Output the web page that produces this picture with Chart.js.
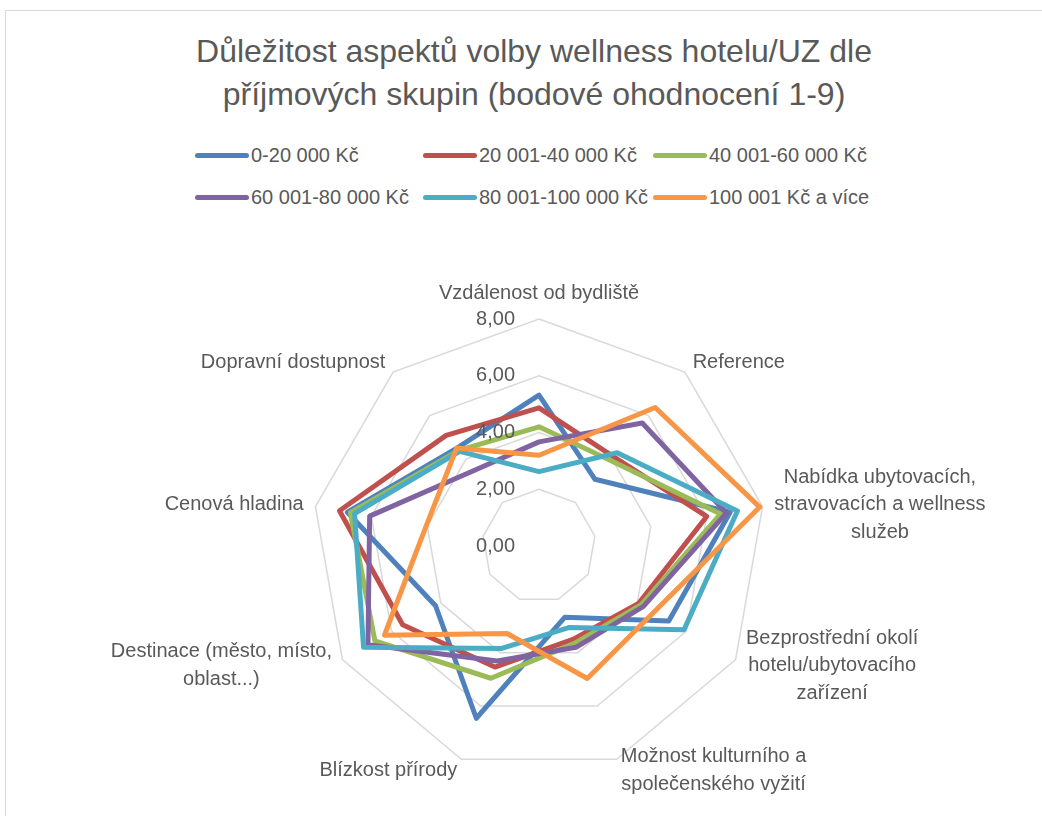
<!DOCTYPE html>
<html>
<head>
<meta charset="utf-8">
<script src="https://cdn.jsdelivr.net/npm/chart.js@4"></script>
<style>
  html, body { margin: 0; padding: 0; background: #ffffff; }
  body { width: 1042px; height: 816px; position: relative; overflow: hidden; font-family: "Liberation Sans", Arial, sans-serif; color: #595959; }
  #frame { position: absolute; left: 5px; top: 10px; width: 1070px; height: 830px; border: 1px solid #d9d9d9; box-sizing: border-box; }
  #title { position: absolute; left: 0; top: 30px; width: 1068px; text-align: center; font-size: 32px; line-height: 43px; color: #595959; }
  #legend { position: absolute; left: 0; top: 0; }
  .lg-line { position: absolute; height: 5px; border-radius: 3px; }
  .lg-text { position: absolute; font-size: 20px; line-height: 24px; white-space: nowrap; color: #595959; }
  canvas { position: absolute; left: 0; top: 0; }
</style>
</head>
<body>
<div id="frame"></div>
<div id="title">Důležitost aspektů volby wellness hotelu/UZ dle<br>příjmových skupin (bodové ohodnocení 1-9)</div>
<div id="legend"></div>
<canvas id="c" width="1042" height="816"></canvas>
<script>
// ---- data ----
const categories = [
  ["Vzdálenost od bydliště"],
  ["Reference"],
  ["Nabídka ubytovacích,", "stravovacích a wellness", "služeb"],
  ["Bezprostřední okolí", "hotelu/ubytovacího", "zařízení"],
  ["Možnost kulturního a", "společenského vyžití"],
  ["Blízkost přírody"],
  ["Destinace (město, místo,", "oblast...)"],
  ["Cenová hladina"],
  ["Dopravní dostupnost"]
];
const seriesNames = ["0-20 000 Kč", "20 001-40 000 Kč", "40 001-60 000 Kč", "60 001-80 000 Kč", "80 001-100 000 Kč", "100 001 Kč a více"];
const s0_20k    = [5.32, 3.07, 6.84, 5.28, 2.67, 6.46, 4.21, 6.86, 4.50];
const s20_40k   = [4.87, 4.10, 6.00, 4.05, 3.50, 4.54, 5.55, 7.14, 5.09];
const s40_60k   = [4.20, 3.93, 6.50, 4.15, 3.65, 4.96, 6.68, 6.75, 4.40];
const s60_80k   = [3.67, 5.66, 6.71, 4.25, 3.80, 4.31, 6.96, 6.06, 3.50];
const s80_100k  = [2.62, 4.29, 7.10, 5.90, 3.06, 3.84, 7.14, 6.60, 4.35];
const s100kPlus = [3.20, 6.37, 7.90, 4.67, 4.97, 3.28, 6.29, 4.04, 4.51];
const tickValues = [0, 2, 4, 6, 8];
const tickLabels = ["0,00", "2,00", "4,00", "6,00", "8,00"];

const seriesValues = [s0_20k, s20_40k, s40_60k, s60_80k, s80_100k, s100kPlus];
const colors = ["#4F81BD", "#C0504D", "#9BBB59", "#8064A2", "#4BACC6", "#F79646"];
const FONT = '"Liberation Sans", Arial, sans-serif';
const TEXT = '#595959';

// ---- legend (HTML) ----
const legend = document.getElementById('legend');
const colX = [195, 423, 653];
const rowY = [155, 197];
seriesNames.forEach((name, i) => {
  const x = colX[i % 3], y = rowY[Math.floor(i / 3)];
  const ln = document.createElement('div');
  ln.className = 'lg-line';
  ln.style.left = x + 'px'; ln.style.top = (y - 2.5) + 'px'; ln.style.width = '54px';
  ln.style.background = colors[i];
  legend.appendChild(ln);
  const tx = document.createElement('div');
  tx.className = 'lg-text';
  tx.style.left = (x + 56) + 'px'; tx.style.top = (y - 12) + 'px';
  tx.textContent = name;
  legend.appendChild(tx);
});

// ---- custom labels drawn from the scale ----
const excelLabels = {
  id: 'excelLabels',
  afterDatasetsDraw(chart) {
    const s = chart.scales.r;
    const ctx = chart.ctx;
    ctx.save();
    ctx.font = '20px ' + FONT;
    ctx.fillStyle = TEXT;
    ctx.textBaseline = 'middle';
    // tick labels
    ctx.textAlign = 'right';
    tickValues.forEach((v, k) => {
      const d = s.getDistanceFromCenterForValue(v);
      ctx.fillText(tickLabels[k], s.xCenter - 24, s.yCenter - d);
    });
    // point labels
    const lh = 27.5;
    chart.data.labels.forEach((lab, i) => {
      const lines = Array.isArray(lab) ? lab : [lab];
      const p = s.getPointPosition(i, s.drawingArea + 12);
      const cos = Math.cos(p.angle), sin = Math.sin(p.angle);
      const w = Math.max(...lines.map(l => ctx.measureText(l).width));
      const h = lines.length * lh;
      let left;
      if (Math.abs(cos) < 0.05) left = p.x - w / 2;
      else if (cos > 0) left = p.x;
      else left = p.x - w;
      let top;
      if (sin < -0.95) top = p.y - h;
      else if (sin > 0.95) top = p.y;
      else top = p.y - h / 2;
      ctx.textAlign = 'center';
      lines.forEach((l, k) => ctx.fillText(l, left + w / 2, top + lh * (k + 0.5)));
    });
    ctx.restore();
  }
};

new Chart(document.getElementById('c'), {
  type: 'radar',
  data: {
    labels: categories,
    datasets: seriesNames.map((name, i) => ({
      label: name,
      data: seriesValues[i],
      borderColor: colors[i],
      backgroundColor: 'rgba(0,0,0,0)',
      borderWidth: 5,
      borderJoinStyle: 'round',
      borderCapStyle: 'round',
      pointRadius: 0,
      pointHoverRadius: 0,
      fill: false,
      tension: 0,
      order: seriesNames.length - i
    }))
  },
  options: {
    responsive: false,
    animation: false,
    devicePixelRatio: 1,
    layout: { padding: { left: 312, right: 276, top: 319, bottom: 43 } },
    plugins: {
      legend: { display: false },
      title: { display: false },
      tooltip: { enabled: false }
    },
    scales: {
      r: {
        min: 0,
        max: 8,
        ticks: { display: false, stepSize: 2 },
        grid: { color: '#d9d9d9', lineWidth: 1.5, circular: false },
        angleLines: { display: false },
        pointLabels: { display: false }
      }
    }
  },
  plugins: [excelLabels]
});
</script>
</body>
</html>
